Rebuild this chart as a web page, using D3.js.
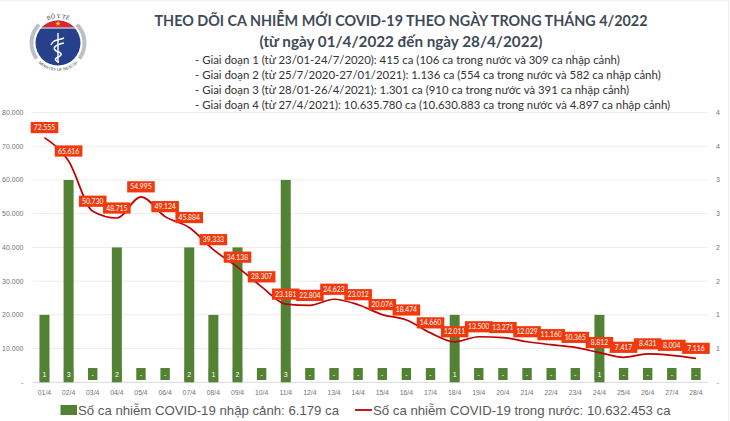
<!DOCTYPE html>
<html>
<head>
<meta charset="utf-8">
<script src="https://cdn.jsdelivr.net/npm/d3@7"></script>
<style>
  body { margin: 0; background: #fff; }
  svg { display: block; }
</style>
</head>
<body>
<div id="chart"></div>
<script>
// Data
const days = ["01/4","02/4","03/4","04/4","05/4","06/4","07/4","08/4","09/4","10/4","11/4","12/4","13/4","14/4",
  "15/4","16/4","17/4","18/4","19/4","20/4","21/4","22/4","23/4","24/4","25/4","26/4","27/4","28/4"];
const domestic = [72555,65616,50730,48715,54995,49124,45884,39333,34138,28307,23181,22804,24623,23012,
  20076,18474,14660,12011,13500,13271,12029,11160,10365,8812,7417,8431,8004,7116];
const imported = [1,3,0,2,0,0,2,1,2,0,3,0,0,0,0,0,0,1,0,0,0,0,0,1,0,0,0,0];
const leftTicks = [0,10000,20000,30000,40000,50000,60000,70000,80000];
const rightTicks = [0,0.5,1,1.5,2,2.5,3,3.5,4];
const titleLines = ["THEO DÕI CA NHIỄM MỚI COVID-19 THEO NGÀY TRONG THÁNG 4/2022",
  "(từ ngày 01/4/2022 đến ngày 28/4/2022)"];
const stageLines = [
  "- Giai đoạn 1 (từ 23/01-24/7/2020): 415 ca (106 ca trong nước và 309 ca nhập cảnh)",
  "- Giai đoạn 2 (từ 25/7/2020-27/01/2021): 1.136 ca (554 ca trong nước và 582 ca nhập cảnh)",
  "- Giai đoạn 3 (từ 28/01-26/4/2021): 1.301 ca (910 ca trong nước và 391 ca nhập cảnh)",
  "- Giai đoạn 4 (từ 27/4/2021): 10.635.780 ca (10.630.883 ca trong nước và 4.897 ca nhập cảnh)"];
const legendBar = "Số ca nhiễm COVID-19 nhập cảnh: 6.179 ca";
const legendLine = "Số ca nhiễm COVID-19 trong nước: 10.632.453 ca";

const width = 730, height = 421;
const margin = {top: 112.5, right: 22, bottom: 38.7, left: 32.4};

const svg = d3.select("#chart").append("svg")
  .attr("width", width)
  .attr("height", height);

const x = d3.scaleBand().domain(days).range([margin.left, width - margin.right]);
const y = d3.scaleLinear().domain([0, 80000]).range([height - margin.bottom, margin.top]);
const y2 = d3.scaleLinear().domain([0, 4]).range([height - margin.bottom, margin.top]);
const cx = d => x(d) + x.bandwidth() / 2;

const fmt = v => v === 0 ? "-" : String(v).replace(/\B(?=(\d{3})+$)/g, ".");

// faint frame of the slide
svg.append("path").attr("d", "M0,0.5H728.5V421").attr("fill", "none").attr("stroke", "#efefef");

// --- header
const titleFont = "Lato, 'Noto Sans', sans-serif";
const titleWidths = [493, 283];
svg.selectAll(".title").data(titleLines).enter().append("text")
  .attr("class", "title")
  .attr("x", 401)
  .attr("y", (d, i) => 26 + i * 20.7)
  .attr("text-anchor", "middle")
  .attr("font-family", titleFont)
  .attr("font-weight", 700)
  .attr("font-size", 15.5)
  .attr("textLength", (d, i) => titleWidths[i])
  .attr("lengthAdjust", "spacingAndGlyphs")
  .attr("fill", "#3f4a57")
  .text(d => d);

svg.selectAll(".stage").data(stageLines).enter().append("text")
  .attr("class", "stage")
  .attr("x", 195)
  .attr("y", (d, i) => 63.5 + i * 15.1)
  .attr("font-family", titleFont)
  .attr("font-size", 11.4)
  .attr("fill", "#333")
  .text(d => d);

// --- logo
const logo = svg.append("g").attr("transform", "translate(58,43)");
const ring = d3.arc().innerRadius(24.5).outerRadius(28.5);
[[0.8, 2.2], [-2.2, -0.8]].forEach(a => {
  logo.append("path").attr("d", ring({startAngle: a[0], endAngle: a[1]})).attr("fill", "#bcc0c6");
});
const defs = svg.append("defs");
defs.append("clipPath").attr("id", "logoTop").append("rect")
  .attr("x", -23).attr("y", -23).attr("width", 46).attr("height", 7.5);
logo.append("circle").attr("r", 22.5).attr("fill", "#27408b");
logo.append("circle").attr("r", 22.5).attr("fill", "#e2232a").attr("clip-path", "url(#logoTop)");
logo.append("path").attr("d", "M-19,-15.5H19V-14.6H-19Z").attr("fill", "#fff");
logo.append("path").attr("d", d3.symbol(d3.symbolStar, 9)()).attr("transform", "translate(0,-19.3)").attr("fill", "#ffd83a");
logo.append("line").attr("x1", 0).attr("x2", 0).attr("y1", -10).attr("y2", 20).attr("stroke", "#fff").attr("stroke-width", 1.4);
logo.append("path").attr("d", "M-7,2C-4,-4 -1,-2 6,-5M6,0C-3,2 -6,5 -2,8C4,10 5,12 0,14C-4,16 -3,18 1,19")
  .attr("fill", "none").attr("stroke", "#fff").attr("stroke-width", 1.5);
defs.append("path").attr("id", "arcTop").attr("d", "M-25,0A25,25 0 0 1 25,0");
defs.append("path").attr("id", "arcBottom").attr("d", "M-28,0A28,28 0 0 0 28,0");
logo.append("text").attr("font-size", 5.8).attr("font-family", "'Liberation Serif', serif").attr("fill", "#333")
  .append("textPath").attr("href", "#arcTop").attr("startOffset", "50%").attr("text-anchor", "middle").text("BỘ Y TẾ");
logo.append("text").attr("font-size", 4.2).attr("font-family", "'Liberation Serif', serif").attr("fill", "#333")
  .append("textPath").attr("href", "#arcBottom").attr("startOffset", "50%").attr("text-anchor", "middle").text("MINISTRY OF HEALTH");

// --- grid + axes
svg.append("g").selectAll("line").data(leftTicks).enter().append("line")
  .attr("x1", margin.left).attr("x2", width - margin.right)
  .attr("y1", d => y(d)).attr("y2", d => y(d))
  .attr("stroke", d => d === 0 ? "#d9d9d9" : "#ececec")
  .attr("stroke-width", 1);

const axisFont = "'Liberation Sans', sans-serif";
svg.append("g").selectAll("text").data(leftTicks).enter().append("text")
  .attr("x", 23.5).attr("y", d => y(d) + 2.5)
  .attr("text-anchor", "end")
  .attr("font-family", axisFont).attr("font-size", 7).attr("fill", "#737373")
  .text(fmt);

svg.append("g").selectAll("text").data(rightTicks).enter().append("text")
  .attr("x", 718).attr("y", d => y2(d) + 2.5)
  .attr("text-anchor", "middle")
  .attr("font-family", axisFont).attr("font-size", 7).attr("fill", "#737373")
  .text(d => d === 0 ? "-" : Math.round(d));

svg.append("g").selectAll("text").data(days).enter().append("text")
  .attr("x", cx).attr("y", 395)
  .attr("text-anchor", "middle")
  .attr("font-family", axisFont).attr("font-size", 6.8).attr("fill", "#737373")
  .text(d => d);

// --- bars (right axis)
const green = "#548235";
svg.append("g").selectAll("rect").data(days).enter().append("rect")
  .attr("x", d => cx(d) - 5)
  .attr("width", 10)
  .attr("y", (d, i) => y2(imported[i]))
  .attr("height", (d, i) => y2(0) - y2(imported[i]))
  .attr("fill", green);

// little green boxes with the bar value, near the axis
const barLabels = svg.append("g").selectAll("g").data(days).enter().append("g")
  .attr("transform", d => `translate(${cx(d)},374)`);
barLabels.append("rect")
  .attr("x", -4.7).attr("y", -6).attr("width", 9.4).attr("height", 12)
  .attr("fill", green);
barLabels.append("text")
  .attr("y", 2.6)
  .attr("text-anchor", "middle")
  .attr("font-family", axisFont).attr("font-size", 7).attr("fill", "#fff")
  .text((d, i) => imported[i] === 0 ? "-" : imported[i]);

// --- line
const line = d3.line()
  .x(d => cx(d))
  .y((d, i) => y(domestic[i]))
  .curve(d3.curveMonotoneX);
svg.append("path")
  .attr("d", line(days))
  .attr("fill", "none")
  .attr("stroke", "#c00000")
  .attr("stroke-width", 1.7);

// labels sit 10px above the points
const lineLabels = svg.append("g").selectAll("g").data(days).enter().append("g")
  .attr("transform", (d, i) => `translate(${cx(d)},${y(domestic[i]) - 10})`);
lineLabels.append("rect")
  .attr("x", -13.8).attr("y", -5.6).attr("width", 27.6).attr("height", 11.2)
  .attr("fill", "#f03a0e");
lineLabels.append("text")
  .attr("y", 2.5)
  .attr("text-anchor", "middle")
  .attr("font-family", titleFont).attr("font-size", 6.8).attr("fill", "#fff")
  .text((d, i) => fmt(domestic[i]));

// --- legend
svg.append("rect").attr("x", 60.5).attr("y", 405).attr("width", 16.5).attr("height", 10).attr("fill", green);
svg.append("line").attr("x1", 355).attr("x2", 372).attr("y1", 410).attr("y2", 410).attr("stroke", "#c00000").attr("stroke-width", 1.8);
svg.append("text").attr("x", 78).attr("y", 414.5)
  .attr("font-family", axisFont).attr("font-size", 13.2).attr("fill", "#595959").text(legendBar);
svg.append("text").attr("x", 373).attr("y", 414.5)
  .attr("font-family", axisFont).attr("font-size", 13.2).attr("fill", "#595959").text(legendLine);
</script>
</body>
</html>
